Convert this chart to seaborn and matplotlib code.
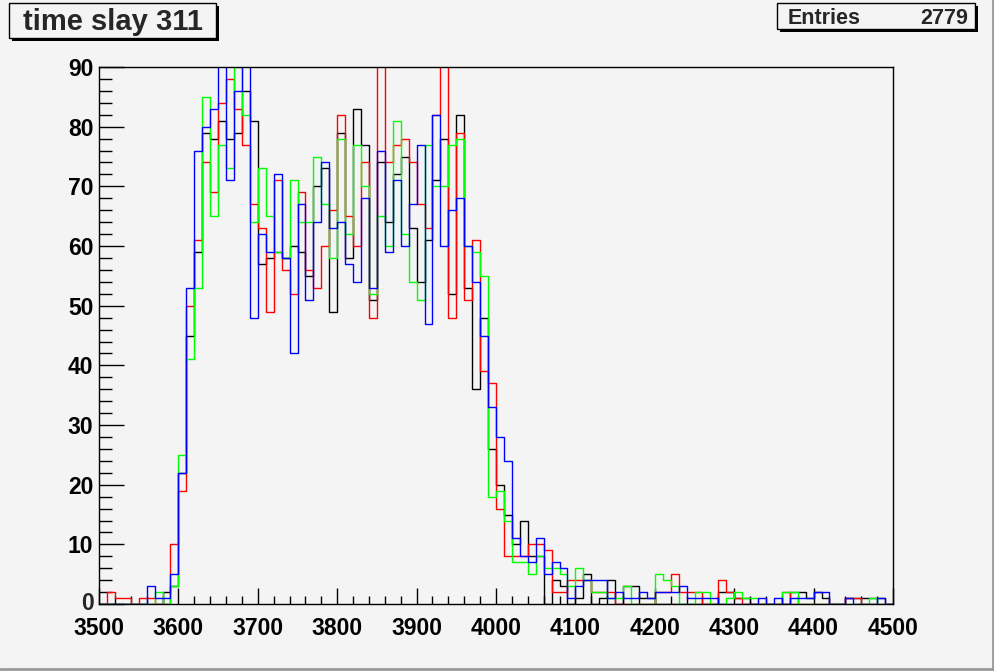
"""Overlaid step histograms: time slay 311 (ROOT-style canvas)."""

import matplotlib

matplotlib.use("Agg")

import matplotlib.pyplot as plt
import matplotlib.transforms as mtransforms
import seaborn as sns
from matplotlib.lines import Line2D
from matplotlib.patches import Rectangle
from matplotlib.ticker import FuncFormatter, MultipleLocator

BG = "#f4f4f4"

# bin edges, 10 ns wide
BIN_EDGES = list(range(3500, 4510, 10))

BLACK = [
    0, 0, 0, 0, 0, 0, 0, 0, 2, 3,
    22, 45, 59, 79, 78, 81, 78, 79, 86, 81,
    57, 58, 59, 58, 60, 59, 55, 70, 73, 49,
    79, 58, 83, 77, 51, 74, 64, 72, 75, 63,
    54, 61, 71, 78, 52, 82, 53, 36, 48, 26,
    20, 15, 10, 14, 8, 8, 0, 4, 3, 0,
    1, 5, 0, 1, 4, 0, 3, 3, 1, 1,
    0, 0, 0, 0, 0, 0, 0, 0, 2, 2,
    1, 1, 0, 0, 0, 0, 0, 2, 2, 1,
    2, 1, 0, 0, 1, 1, 1, 1, 1, 0,
]
RED = [
    0, 2, 1, 1, 0, 1, 1, 0, 0, 10,
    19, 50, 61, 74, 69, 84, 88, 83, 77, 67,
    63, 49, 71, 56, 52, 69, 56, 53, 60, 66,
    82, 65, 60, 74, 48, 95, 74, 77, 78, 74,
    67, 63, 82, 95, 48, 79, 51, 61, 39, 37,
    16, 8, 8, 8, 10, 10, 9, 2, 2, 4,
    4, 4, 2, 2, 2, 0, 0, 0, 0, 0,
    2, 2, 5, 2, 2, 2, 0, 0, 4, 2,
    1, 0, 0, 0, 0, 0, 2, 0, 0, 0,
    0, 0, 0, 0, 1, 1, 0, 0, 0, 0,
]
GREEN = [
    0, 0, 0, 0, 0, 0, 0, 2, 0, 3,
    25, 41, 53, 85, 65, 77, 73, 90, 82, 64,
    73, 65, 59, 58, 71, 64, 64, 75, 67, 58,
    78, 62, 77, 70, 52, 65, 60, 81, 62, 54,
    51, 77, 70, 70, 77, 78, 60, 59, 55, 18,
    19, 14, 7, 7, 5, 8, 6, 6, 5, 3,
    6, 4, 2, 2, 1, 1, 3, 0, 0, 0,
    5, 4, 3, 0, 0, 2, 2, 0, 0, 1,
    2, 1, 1, 0, 0, 0, 2, 2, 0, 0,
    0, 0, 0, 0, 0, 0, 0, 1, 0, 0,
]
BLUE = [
    0, 0, 0, 0, 0, 0, 3, 1, 1, 5,
    22, 53, 76, 80, 83, 94, 71, 86, 92, 48,
    62, 59, 72, 58, 42, 67, 51, 64, 74, 63,
    64, 57, 54, 68, 53, 76, 59, 71, 60, 67,
    77, 47, 82, 60, 66, 68, 60, 54, 45, 33,
    28, 24, 11, 8, 7, 11, 5, 7, 6, 1,
    3, 4, 4, 4, 1, 2, 1, 1, 2, 1,
    2, 2, 2, 3, 1, 1, 1, 1, 0, 0,
    0, 0, 0, 1, 0, 1, 0, 1, 1, 1,
    2, 2, 0, 0, 1, 0, 0, 0, 1, 0,
]

SERIES = [("black", BLACK), ("#ff0000", RED), ("#00ff00", GREEN), ("#0000ff", BLUE)]

TITLE = "time slay 311"
ENTRIES = 2779

sns.set_style("ticks")
plt.rcParams["font.family"] = ["Liberation Sans", "DejaVu Sans"]
plt.rcParams["font.weight"] = "bold"

fig = plt.figure(figsize=(9.95, 6.71), dpi=100, facecolor=BG)
ax = fig.add_axes([0.0995, 0.0998, 0.798, 0.8003])
ax.set_facecolor(BG)

centers = [lo + 5 for lo in BIN_EDGES[:-1]]
for color, counts in SERIES:
    sns.histplot(
        x=centers, weights=counts, bins=BIN_EDGES, element="step",
        fill=False, color=color, linewidth=1.0, ax=ax,
    )

ax.set_xlim(3500, 4500)
ax.set_ylim(0, 90)
ax.set_xlabel("")
ax.set_ylabel("")
ax.xaxis.set_major_locator(MultipleLocator(100))
ax.xaxis.set_minor_locator(MultipleLocator(20))
ax.yaxis.set_major_locator(MultipleLocator(10))
ax.yaxis.set_minor_locator(MultipleLocator(2))
# the "0" is drawn by hand a bit higher so it clears "3500"
ax.yaxis.set_major_formatter(FuncFormatter(lambda v, _: "" if v == 0 else f"{v:.0f}"))
ax.tick_params(axis="both", which="both", direction="in", colors="black",
               top=False, right=False, width=1.0, labelsize=16.5)
ax.tick_params(axis="x", which="major", length=11.5, pad=9)
ax.tick_params(axis="x", which="minor", length=5.8)
ax.tick_params(axis="y", which="major", length=18, pad=4)
ax.tick_params(axis="y", which="minor", length=9.4)
for sp in ax.spines.values():
    sp.set_color("black")
    sp.set_linewidth(1.0)
    sp.set_visible(True)

zero_tf = ax.get_yaxis_transform() + mtransforms.ScaledTranslation(
    -4 / 72, 3.5 / 100, fig.dpi_scale_trans)
ax.text(0, 0, "0", transform=zero_tf, ha="right", va="center_baseline",
        fontsize=16.5, fontweight="bold")


def px_box(x0, y0, x1, y1, shadow=3):
    """Draw a ROOT-like pave in pixel coords (origin top-left)."""
    W, H = 995, 671
    fx, fy = x0 / W, 1 - y1 / H
    fw, fh = (x1 - x0) / W, (y1 - y0) / H
    fig.add_artist(Rectangle((fx + shadow / W, fy - shadow / H), fw, fh,
                             transform=fig.transFigure, facecolor="black",
                             edgecolor="black", lw=0))
    fig.add_artist(Rectangle((fx, fy), fw, fh, transform=fig.transFigure,
                             facecolor=BG, edgecolor="black", lw=1.0))


px_box(9, 3, 216, 38)
fig.text(113 / 995, 1 - 21.5 / 671, TITLE, ha="center", va="center",
         fontsize=21, fontweight="bold")

px_box(777, 3, 975, 29)
fig.text(788 / 995, 1 - 18 / 671, "Entries", ha="left", va="center",
         fontsize=15.5, fontweight="bold")
fig.text(968 / 995, 1 - 18 / 671, f"{ENTRIES}", ha="right", va="center",
         fontsize=15.5, fontweight="bold")

# canvas edge
fig.add_artist(Line2D([0.9975, 0.9975], [0, 1], color="#9a9a9a", lw=2,
                      transform=fig.transFigure))
fig.add_artist(Line2D([0, 1], [0.003, 0.003], color="#9a9a9a", lw=2,
                      transform=fig.transFigure))

fig.savefig("out.png", dpi=100, facecolor=BG)
plt.close(fig)
